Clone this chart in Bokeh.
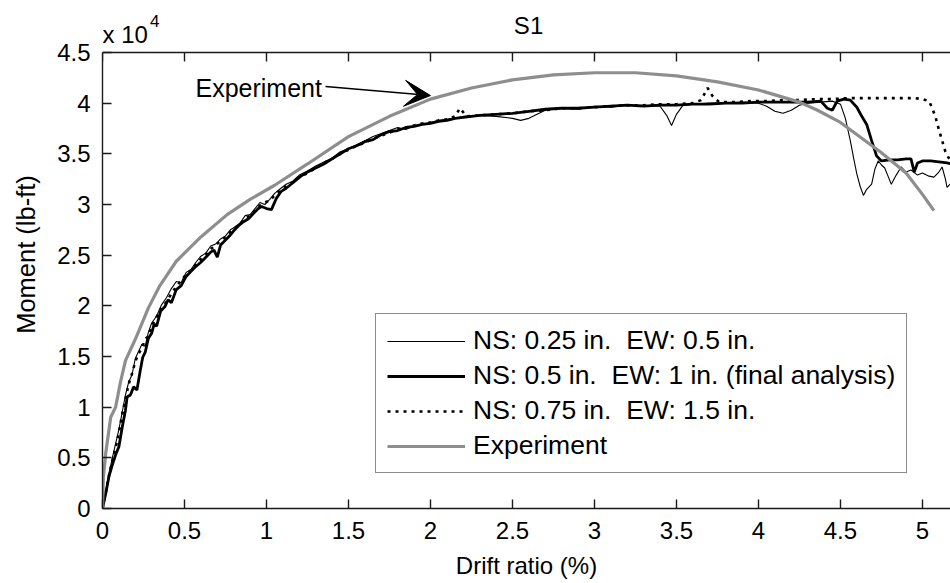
from bokeh.plotting import figure
from bokeh.models import (Range1d, FixedTicker, CustomJSTickFormatter, Span,
                          Label, Arrow, VeeHead, Legend, LegendItem)
from bokeh.embed import file_html
from bokeh.resources import INLINE

FONT = "Liberation Sans"

# ---------------- data ----------------
x_ticks = [0, 0.5, 1, 1.5, 2, 2.5, 3, 3.5, 4, 4.5, 5]
y_ticks = [0, 5000, 10000, 15000, 20000, 25000, 30000, 35000, 40000, 45000]

labels = ["NS: 0.25 in.  EW: 0.5 in.",
          "NS: 0.5 in.  EW: 1 in. (final analysis)",
          "NS: 0.75 in.  EW: 1.5 in.",
          "Experiment"]

ns025_x = [0, 0.02, 0.04, 0.06, 0.08, 0.10, 0.12, 0.14, 0.16, 0.18, 0.20, 0.22, 0.24, 0.26, 0.28,
           0.30, 0.33, 0.36, 0.39, 0.42, 0.45, 0.48, 0.51, 0.54, 0.57, 0.60, 0.63, 0.66, 0.69,
           0.72, 0.75, 0.78, 0.81, 0.84, 0.87, 0.90, 0.93, 0.96, 0.99, 1.02, 1.05, 1.08, 1.12,
           1.16, 1.20, 1.25, 1.30, 1.35, 1.40, 1.45, 1.50, 1.55, 1.60, 1.65, 1.70, 1.75, 1.80,
           1.85, 1.90, 1.95, 2.00, 2.05, 2.10, 2.15, 2.20, 2.30, 2.40, 2.50, 2.55, 2.60, 2.65,
           2.70, 2.80, 2.90, 3.00, 3.10, 3.20, 3.30, 3.40, 3.44, 3.47, 3.50, 3.54, 3.60, 3.70,
           3.80, 3.90, 4.00, 4.05, 4.10, 4.15, 4.20, 4.25, 4.30, 4.38, 4.45, 4.50, 4.53, 4.56,
           4.58, 4.60, 4.62, 4.64, 4.66, 4.69, 4.71, 4.73, 4.75, 4.77, 4.79, 4.81, 4.84, 4.87,
           4.90, 4.93, 4.97, 5.00, 5.04, 5.07, 5.10, 5.12, 5.14, 5.15, 5.18]
ns025_y = [0, 1800, 3500, 5000, 6400, 7800, 9500, 11200, 12500, 13200, 14800, 15500, 16200, 16000, 17400,
           18300, 19000, 20100, 20800, 21700, 22400, 22300, 23300, 23600, 24300, 24900, 25200, 25900, 26100,
           26600, 26900, 27500, 27800, 28200, 28900, 29000, 29600, 30200, 30000, 30500, 31100, 31500, 32000,
           32300, 32900, 33300, 33800, 34200, 34600, 35200, 35500, 35900, 36300, 36700, 37000, 37300, 37600,
           37400, 37800, 37900, 38100, 38300, 38400, 38500, 38700, 38800, 38700, 38500, 38300, 38500, 38900,
           39300, 39500, 39400, 39700, 39600, 39800, 39800, 39700, 38800, 37800, 38900, 39800, 39900, 40000,
           40000, 40100, 40000, 39700, 39200, 39000, 39300, 39800, 40000, 40100, 40200, 39900, 38500, 36300,
           34600, 33000, 31800, 30900, 31500, 32000, 33500, 34300, 33900, 33600, 32800, 32000, 32900, 33700,
           33200, 33400, 32900, 33100, 32800, 32700, 33200, 33700, 32500, 31700, 32200]

ns05_x = [0, 0.02, 0.04, 0.06, 0.08, 0.10, 0.12, 0.14, 0.15, 0.17, 0.19, 0.21, 0.23, 0.245, 0.26,
          0.28, 0.30, 0.315, 0.33, 0.355, 0.38, 0.40, 0.42, 0.45, 0.48, 0.51, 0.54, 0.57, 0.60,
          0.63, 0.66, 0.68, 0.70, 0.72, 0.75, 0.78, 0.80, 0.83, 0.86, 0.89, 0.92, 0.95, 0.97,
          1.00, 1.03, 1.06, 1.09, 1.12, 1.15, 1.18, 1.21, 1.25, 1.30, 1.35, 1.40, 1.45, 1.50,
          1.55, 1.60, 1.65, 1.70, 1.75, 1.80, 1.85, 1.90, 1.95, 2.00, 2.05, 2.10, 2.15, 2.20,
          2.30, 2.40, 2.50, 2.60, 2.70, 2.80, 2.90, 3.00, 3.10, 3.20, 3.30, 3.40, 3.50, 3.60,
          3.70, 3.80, 3.90, 4.00, 4.10, 4.20, 4.30, 4.38, 4.42, 4.45, 4.48, 4.52, 4.56, 4.60,
          4.63, 4.66, 4.69, 4.72, 4.75, 4.80, 4.85, 4.90, 4.93, 4.95, 4.97, 5.00, 5.05, 5.10,
          5.15, 5.18]
ns05_y = [0, 1500, 3200, 4300, 5300, 6100, 8000, 9700, 11000, 11200, 12000, 11700, 13600, 14900, 15400,
          16800, 17300, 18200, 18000, 19500, 19900, 20600, 20300, 21600, 22000, 22900, 23400, 23900, 24300,
          24800, 25300, 25500, 24800, 26000, 26500, 27000, 27400, 27900, 28300, 28600, 29100, 29600, 29800,
          29600, 29500, 30600, 31300, 31600, 32000, 32400, 32800, 33200, 33600, 34000, 34500, 35000, 35500,
          35800, 36200, 36400, 36900, 37200, 37300, 37600, 37700, 37900, 38000, 38200, 38300, 38500, 38600,
          38800, 38900, 39000, 39200, 39400, 39500, 39500, 39600, 39700, 39800, 39700, 39800, 39800, 39900,
          39900, 40000, 40000, 40100, 40100, 40100, 40100, 40200, 39500, 39300, 40200, 40400, 40300, 39600,
          38700, 37900, 36300, 34800, 34300, 34400, 34400, 34500, 34500, 33200, 34100, 34300, 34300, 34200,
          34100, 34000]

ns075_x = [0, 0.02, 0.04, 0.06, 0.08, 0.10, 0.12, 0.14, 0.16, 0.18, 0.20, 0.22, 0.24, 0.26, 0.28,
           0.30, 0.33, 0.36, 0.39, 0.42, 0.45, 0.48, 0.51, 0.54, 0.57, 0.60, 0.63, 0.66, 0.69,
           0.72, 0.75, 0.78, 0.81, 0.84, 0.87, 0.90, 0.93, 0.96, 0.99, 1.02, 1.05, 1.08, 1.12,
           1.16, 1.20, 1.25, 1.30, 1.35, 1.40, 1.45, 1.50, 1.55, 1.60, 1.65, 1.70, 1.75, 1.80,
           1.85, 1.90, 1.95, 2.00, 2.05, 2.10, 2.15, 2.18, 2.22, 2.30, 2.40, 2.50, 2.60, 2.70,
           2.80, 2.90, 3.00, 3.10, 3.20, 3.30, 3.40, 3.50, 3.60, 3.65, 3.69, 3.72, 3.76, 3.85,
           3.95, 4.05, 4.15, 4.25, 4.35, 4.45, 4.55, 4.65, 4.75, 4.85, 4.95, 5.00, 5.04, 5.06,
           5.08, 5.10, 5.12, 5.14, 5.16, 5.18]
ns075_y = [0, 1600, 3300, 4700, 6000, 7500, 9300, 10800, 12300, 13300, 14500, 15300, 15800, 16700, 17000,
           18000, 18900, 19800, 20400, 21200, 21900, 22500, 23100, 23500, 24100, 24600, 25100, 25600, 26000,
           26400, 26800, 27300, 27700, 28100, 28600, 28900, 29400, 29900, 30200, 30400, 30900, 31400, 31800,
           32200, 32700, 33100, 33600, 34100, 34500, 35000, 35400, 35800, 36100, 36500, 36800, 37100, 37400,
           37600, 37800, 38000, 38100, 38300, 38400, 38700, 39500, 38700, 38800, 38900, 39000, 39200, 39300,
           39500, 39500, 39600, 39700, 39800, 39800, 39900, 39900, 40000, 40300, 41500, 40700, 40100, 40100,
           40200, 40200, 40300, 40300, 40400, 40400, 40500, 40500, 40500, 40500, 40500, 40400, 40200, 39500,
           38600, 37400, 36300, 35200, 34600, 34200]

exp_x = [0, 0.005, 0.02, 0.05, 0.08, 0.11, 0.14, 0.20, 0.28, 0.35, 0.45, 0.60, 0.76, 0.90, 1.05,
         1.25, 1.50, 1.75, 2.00, 2.25, 2.50, 2.75, 3.00, 3.25, 3.50, 3.75, 4.00, 4.25, 4.36, 4.50,
         4.75, 4.90, 5.00, 5.07]
exp_y = [0, 3000, 5500, 9000, 10000, 12500, 14600, 16700, 19800, 22000, 24400, 26800, 29000, 30500, 31900,
         34000, 36700, 38700, 40400, 41500, 42300, 42800, 43000, 43000, 42700, 42100, 41300, 40100, 39300, 38100,
         35100, 33100, 31000, 29400]

# annotation placement (data units)
ann_text_pos = (0.567, 41450)
ann_arrow_start = (1.36, 41650)
ann_arrow_end = (2.0, 40750)
title_pos = (2.598, 47660)
exp_label_pos = (0.0, 46820)
exp_sup_pos = (0.29, 48150)

Y_TOP = y_ticks[-1]
PX_PER_Y = 456 / Y_TOP          # frame pixels per data unit on y
TICK_PX = 9

# ---------------- figure ----------------
p = figure(width=950, height=583, output_backend="svg", toolbar_location=None,
           x_range=Range1d(0, 5.171), y_range=Range1d(0, Y_TOP * 508 / 456),
           min_border_left=102, min_border_right=0, min_border_top=0, min_border_bottom=75)
p.title.visible = False
p.outline_line_color = None
p.grid.visible = False
p.background_fill_color = "white"
p.border_fill_color = "white"

AX = "#1a1a1a"

def style_axis(ax):
    ax.axis_line_color = AX
    ax.axis_line_width = 1.4
    ax.major_tick_line_color = AX
    ax.major_tick_line_width = 1.4
    ax.major_tick_in = TICK_PX
    ax.major_tick_out = 0
    ax.minor_tick_line_color = None
    ax.major_label_text_font = FONT
    ax.major_label_text_color = "black"
    ax.axis_label_text_font = FONT
    ax.axis_label_text_font_style = "normal"
    ax.axis_label_text_color = "black"

xa = p.xaxis[0]
style_axis(xa)
xa.ticker = FixedTicker(ticks=x_ticks)
xa.formatter = CustomJSTickFormatter(code="return tick.toString();")
xa.major_label_text_font_size = "24px"
xa.axis_label = "Drift ratio (%)"
xa.axis_label_text_font_size = "24px"
xa.major_label_standoff = 13
xa.axis_label_standoff = 10

ya = p.yaxis[0]
style_axis(ya)
ya.bounds = (0, Y_TOP)
ya.ticker = FixedTicker(ticks=y_ticks)
ya.formatter = CustomJSTickFormatter(code="return (tick/10000).toString();")
ya.major_label_text_font_size = "24px"
ya.axis_label = "Moment (lb-ft)"
ya.axis_label_text_font_size = "25.5px"
ya.major_label_standoff = 12
ya.axis_label_standoff = 14

# top box edge with inward ticks
p.add_layout(Span(location=Y_TOP, dimension="width", line_color=AX, line_width=1.4))
p.segment(x0=x_ticks, y0=[Y_TOP] * len(x_ticks), x1=x_ticks,
          y1=[Y_TOP - TICK_PX / PX_PER_Y] * len(x_ticks), line_color=AX, line_width=1.4)

# ---------------- lines ----------------
r1 = p.line(ns025_x, ns025_y, line_color="black", line_width=1.1)
r2 = p.line(ns05_x, ns05_y, line_color="black", line_width=2.8)
r3 = p.line(ns075_x, ns075_y, line_color="black", line_width=2.6, line_dash="3 5")
r4 = p.line(exp_x, exp_y, line_color="#8e8e8e", line_width=3.2)

legend = Legend(items=[LegendItem(label=labels[0], renderers=[r1]),
                       LegendItem(label=labels[1], renderers=[r2]),
                       LegendItem(label=labels[2], renderers=[r3]),
                       LegendItem(label=labels[3], renderers=[r4])],
                location=(273, 35))
legend.label_text_font = FONT
legend.label_text_font_size = "26.5px"
legend.label_text_color = "black"
legend.glyph_width = 78
legend.glyph_height = 30
legend.label_height = 30
legend.label_standoff = 8
legend.spacing = 4
legend.padding = 11
legend.margin = 0
legend.border_line_color = AX
legend.border_line_width = 1.5
legend.background_fill_color = "white"
legend.background_fill_alpha = 1
p.add_layout(legend, "center")

# ---------------- annotations ----------------
p.add_layout(Label(x=ann_text_pos[0], y=ann_text_pos[1], text="Experiment",
                   text_font=FONT, text_font_size="25px", text_color="black",
                   text_baseline="middle", text_align="left"))
p.add_layout(Arrow(x_start=ann_arrow_start[0], y_start=ann_arrow_start[1],
                   x_end=ann_arrow_end[0], y_end=ann_arrow_end[1],
                   line_color="black", line_width=1.5,
                   end=VeeHead(size=26, fill_color="black", line_color="black")))

# title and exponent marker above the box
p.add_layout(Label(x=title_pos[0], y=title_pos[1], text="S1",
                   text_font=FONT, text_font_size="24px", text_color="black",
                   text_align="center", text_baseline="middle"))
p.add_layout(Label(x=exp_label_pos[0], y=exp_label_pos[1], text="x 10",
                   text_font=FONT, text_font_size="24px", text_color="black",
                   text_align="left", text_baseline="middle"))
p.add_layout(Label(x=exp_sup_pos[0], y=exp_sup_pos[1], text="4",
                   text_font=FONT, text_font_size="17px", text_color="black",
                   text_align="left", text_baseline="middle"))

open("out.html", "w").write(file_html(p, INLINE))
